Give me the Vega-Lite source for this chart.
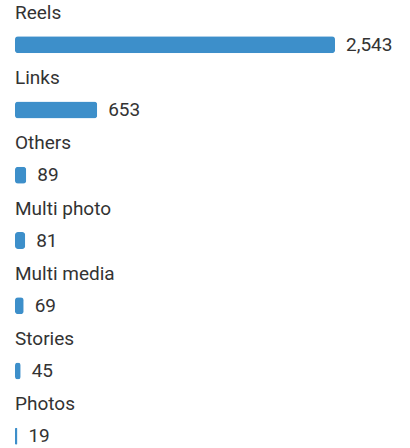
{
  "$schema": "https://vega.github.io/schema/vega-lite/v6.json",
  "autosize": "none",
  "width": 320,
  "height": 448,
  "padding": {"left": 15, "top": 0, "right": 75, "bottom": 0},
  "background": "white",
  "config": {"view": {"stroke": null}},
  "data": {"values": [
    {"type": "Reels", "count": 2543},
    {"type": "Links", "count": 653},
    {"type": "Others", "count": 89},
    {"type": "Multi photo", "count": 81},
    {"type": "Multi media", "count": 69},
    {"type": "Stories", "count": 45},
    {"type": "Photos", "count": 19}
  ]},
  "encoding": {
    "y": {"field": "type", "type": "nominal", "sort": null, "axis": null,
          "scale": {"range": [12, 469], "paddingInner": 0, "paddingOuter": 0}}
  },
  "layer": [
    {
      "mark": {"type": "bar", "size": 17, "cornerRadius": 3, "color": "#3d8fca"},
      "encoding": {
        "x": {"field": "count", "type": "quantitative", "axis": null,
              "scale": {"domain": [0, 2543], "nice": false, "zero": true}}
      }
    },
    {
      "mark": {"type": "text", "align": "left", "baseline": "middle", "dx": 11, "fontSize": 19, "font": "Roboto", "color": "#333333"},
      "encoding": {
        "x": {"field": "count", "type": "quantitative"},
        "text": {"field": "count", "type": "quantitative", "format": ","}
      }
    },
    {
      "mark": {"type": "text", "align": "left", "baseline": "middle", "dy": -32, "fontSize": 19, "font": "Roboto", "color": "#333333"},
      "encoding": {
        "x": {"datum": 0},
        "text": {"field": "type", "type": "nominal"}
      }
    }
  ]
}
